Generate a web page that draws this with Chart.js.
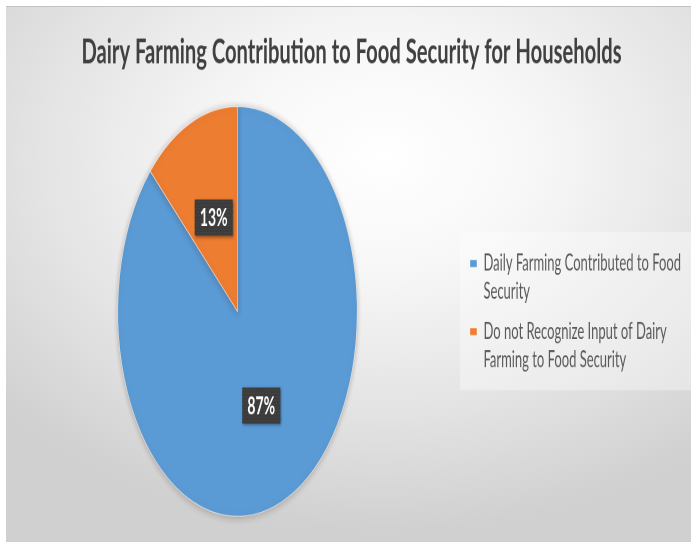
<!DOCTYPE html>
<html>
<head>
<meta charset="utf-8">
<script src="https://cdn.jsdelivr.net/npm/chart.js@4"></script>
<style>
html, body { margin: 0; padding: 0; background: #fff; }
#frame {
    position: absolute; left: 6px; top: 6px; width: 685px; height: 536px; overflow: hidden;
    border-top: 1px solid #c2c2c2; box-sizing: border-box;
    background: radial-gradient(ellipse 75% 70% at 55% 28%, #ffffff 0%, #f7f7f7 30%, #e2e2e2 70%, #d0d0d0 100%);
}
/* the reference picture is stretched vertically, so the whole chart is too */
#wrap {
    position: absolute; left: 0; top: -1px; width: 685px; height: 313px;
    transform: scaleY(1.712); transform-origin: 0 0;
}
</style>
</head>
<body>
<div id="frame"><div id="wrap"><canvas id="pieChart"></canvas></div></div>
<script>
const chartTitle = 'Dairy Farming Contribution to Food Security for Households';
const categories = [
    ['Daily Farming Contributed to Food', 'Security'],
    ['Do not Recognize Input of Dairy', 'Farming to Food Security']
];
const shares = [87, 13];
const sliceColours = ['#5B9BD5', '#ED7D31'];

// soft shadow round the pie
const pieShadow = {
    id: 'pieShadow',
    beforeDatasetsDraw(chart) {
        const ctx = chart.ctx;
        ctx.save();
        ctx.shadowColor = 'rgba(90,60,40,0.35)';
        ctx.shadowBlur = 10;
        ctx.shadowOffsetY = 1;
    },
    afterDatasetsDraw(chart) {
        chart.ctx.restore();
    }
};

// nudge the legend down so it sits level with the pie centre
const legendNudge = {
    id: 'legendNudge',
    afterLayout(chart) {
        const lg = chart.legend;
        if (!lg) return;
        lg.top += 31;
        lg.bottom += 31;
    }
};

// lighter panel behind the legend items
const legendPanel = {
    id: 'legendPanel',
    beforeDraw(chart) {
        const lg = chart.legend;
        if (!lg || !lg.legendHitBoxes || !lg.legendHitBoxes.length) return;
        const boxes = lg.legendHitBoxes;
        const lineH = lg.options.labels.font.size * lg.options.labels.font.lineHeight;
        const top = boxes[0].top - 12;
        const last = boxes[boxes.length - 1];
        const bottom = last.top + lineH * 2 + 8;
        const ctx = chart.ctx;
        ctx.save();
        ctx.fillStyle = 'rgba(255,255,255,0.35)';
        ctx.fillRect(boxes[0].left - 10, top, chart.width - boxes[0].left + 10, bottom - top);
        ctx.restore();
    }
};

// dark boxed percentage labels
const boxLabels = {
    id: 'boxLabels',
    afterDatasetsDraw(chart) {
        const ctx = chart.ctx;
        const meta = chart.getDatasetMeta(0);
        meta.data.forEach((arc, i) => {
            const p = arc.tooltipPosition(true);
            const w = 38, h = 21;
            const x0 = p.x - w / 2, y0 = p.y - h / 2;
            ctx.save();
            ctx.shadowColor = 'rgba(0,0,0,0.45)';
            ctx.shadowBlur = 4;
            ctx.shadowOffsetX = 2;
            ctx.shadowOffsetY = 1.5;
            ctx.fillStyle = '#3b3b3b';
            ctx.fillRect(x0, y0, w, h);
            ctx.restore();
            ctx.save();
            ctx.fillStyle = 'rgba(90,90,90,0.6)';
            for (let yy = y0 + 1; yy < y0 + h; yy += 2) {
                for (let xx = x0 + ((yy - y0) % 4 < 2 ? 1 : 2.5); xx < x0 + w; xx += 3) {
                    ctx.fillRect(xx, yy, 1, 0.8);
                }
            }
            ctx.fillStyle = '#ffffff';
            ctx.font = 'bold 14px Lato';
            ctx.textAlign = 'center';
            ctx.textBaseline = 'middle';
            ctx.fillText(shares[i] + '%', p.x, p.y + 0.5);
            ctx.restore();
        });
    }
};

const pieCtx = document.getElementById('pieChart').getContext('2d');
new Chart(pieCtx, {
    type: 'pie',
    data: {
        labels: categories,
        datasets: [{
            data: shares,
            backgroundColor: sliceColours,
            borderColor: 'rgba(255,255,255,0.6)',
            borderWidth: 0.6
        }]
    },
    options: {
        responsive: true,
        maintainAspectRatio: false,
        devicePixelRatio: 2,
        animation: false,
        layout: { padding: { left: 6, right: 0, top: 0, bottom: 14.6 } },
        plugins: {
            title: {
                display: true,
                text: chartTitle,
                color: '#404040',
                font: { family: 'Lato', size: 20.2, weight: 'bold', lineHeight: 1.2 },
                padding: { top: 14.8, bottom: 19.4 }
            },
            legend: {
                position: 'right',
                labels: {
                    boxWidth: 7,
                    boxHeight: 4.5,
                    padding: 7,
                    color: '#595959',
                    font: { family: 'Lato', size: 13, lineHeight: 1.26 }
                }
            },
            tooltip: { enabled: false }
        }
    },
    plugins: [legendNudge, legendPanel, pieShadow, boxLabels]
});
</script>
</body>
</html>
